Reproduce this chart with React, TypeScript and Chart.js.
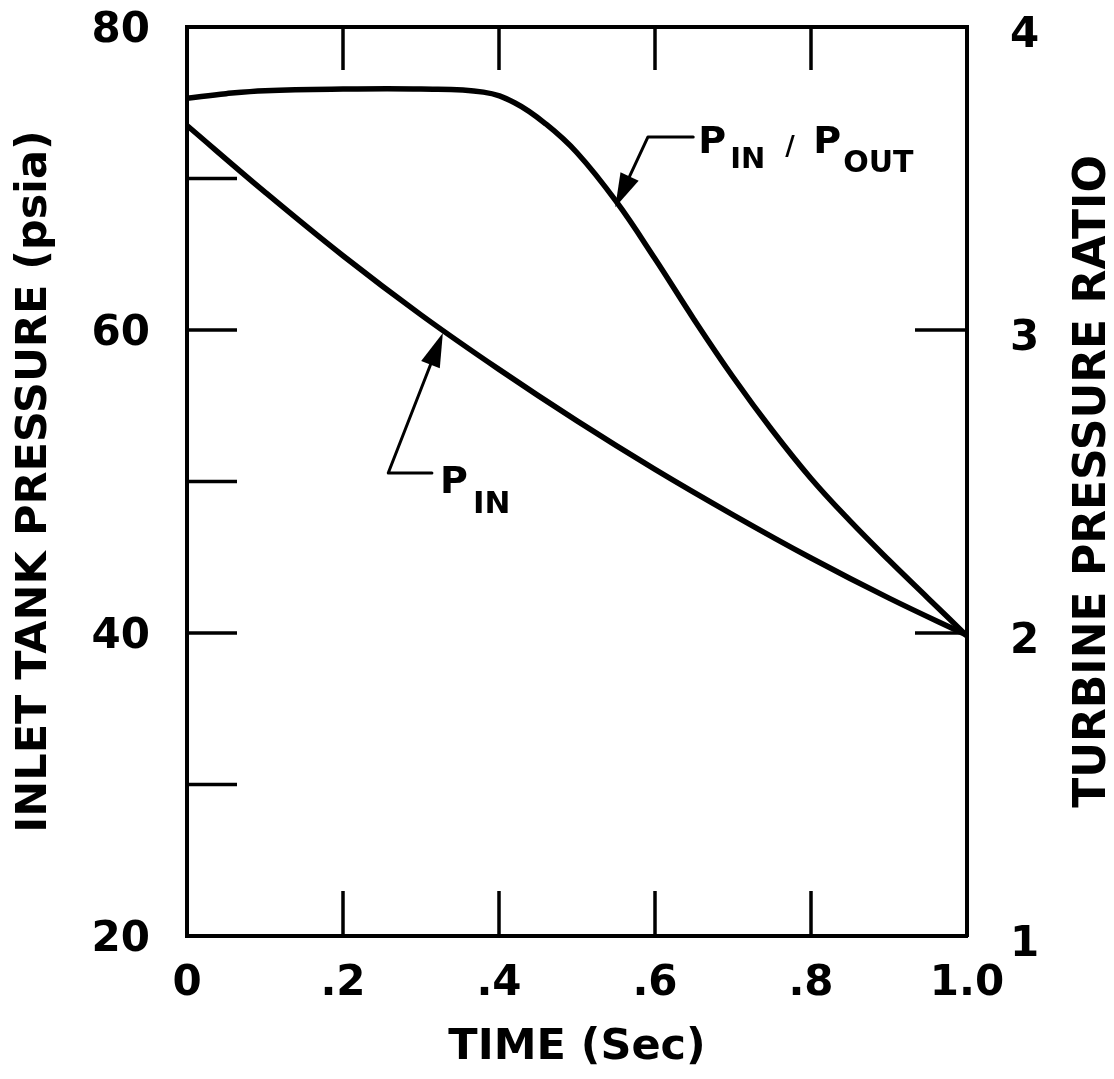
import React, { useEffect, useRef } from 'react';
import { Chart, registerables } from 'chart.js';

Chart.register(...registerables);

// ---- Data ----
const TIME_PIN = [0, 0.1, 0.2, 0.3, 0.4, 0.5, 0.6, 0.7, 0.8, 0.9, 1.0];
const PIN_PSIA = [73.5, 69.1, 64.9, 61.0, 57.4, 54.0, 50.8, 47.8, 44.95, 42.3, 39.85];

const TIME_RATIO = [0, 0.05, 0.1, 0.2, 0.3, 0.38, 0.42, 0.46, 0.5, 0.55, 0.6, 0.65, 0.7, 0.75, 0.8, 0.85, 0.9, 0.95, 1.0];
const PRESSURE_RATIO = [3.765, 3.78, 3.79, 3.795, 3.795, 3.785, 3.75, 3.68, 3.585, 3.425, 3.235, 3.035, 2.845, 2.67, 2.51, 2.37, 2.24, 2.115, 1.99];

const X_TICK_LABELS: Record<string, string> = { '0': '0', '0.2': '.2', '0.4': '.4', '0.6': '.6', '0.8': '.8', '1': '1.0' };
const LEFT_LABEL_VALUES = [20, 40, 60, 80];

const X_TITLE = 'TIME (Sec)';
const Y_TITLE = 'INLET TANK PRESSURE (psia)';
const Y2_TITLE = 'TURBINE PRESSURE RATIO';

// Annotation anchors in data units (x: time, y: left-axis psia)
const RATIO_NOTE = {
  tip: { x: 0.549, y: 68.1 },
  elbow: { x: 0.591, y: 72.74 },
  end: { x: 0.649, y: 72.74 },
  parts: [
    { text: 'P', dx: 5, dy: 16, size: 38 },
    { text: 'IN', dx: 37, dy: 31, size: 29 },
    { text: '/', dx: 92, dy: 18, size: 26 },
    { text: 'P', dx: 120, dy: 16, size: 38 },
    { text: 'OUT', dx: 150, dy: 35, size: 30 },
  ],
};
const PIN_NOTE = {
  tip: { x: 0.328, y: 59.8 },
  elbow: { x: 0.258, y: 50.56 },
  end: { x: 0.314, y: 50.56 },
  parts: [
    { text: 'P', dx: 8, dy: 20, size: 38 },
    { text: 'IN', dx: 41, dy: 40, size: 31 },
  ],
};

const W = 1114;
const H = 1079;
const FONT = '"DejaVu Sans", "Liberation Sans", sans-serif';

function drawNote(ctx: CanvasRenderingContext2D, chart: any, note: any) {
  const xs = chart.scales.x;
  const ys = chart.scales.y;
  const tip = { x: xs.getPixelForValue(note.tip.x), y: ys.getPixelForValue(note.tip.y) };
  const elbow = { x: xs.getPixelForValue(note.elbow.x), y: ys.getPixelForValue(note.elbow.y) };
  const end = { x: xs.getPixelForValue(note.end.x), y: ys.getPixelForValue(note.end.y) };
  ctx.lineWidth = 3;
  ctx.lineCap = 'round';
  ctx.lineJoin = 'round';
  const ang = Math.atan2(tip.y - elbow.y, tip.x - elbow.x);
  const headLen = 34;
  const headW = 10;
  const bx = tip.x - headLen * Math.cos(ang);
  const by = tip.y - headLen * Math.sin(ang);
  ctx.beginPath();
  ctx.moveTo(end.x, end.y);
  ctx.lineTo(elbow.x, elbow.y);
  ctx.lineTo(bx, by);
  ctx.stroke();
  ctx.beginPath();
  ctx.moveTo(tip.x, tip.y);
  ctx.lineTo(bx + headW * Math.sin(ang), by - headW * Math.cos(ang));
  ctx.lineTo(bx - headW * Math.sin(ang), by + headW * Math.cos(ang));
  ctx.closePath();
  ctx.fill();
  ctx.textAlign = 'left';
  ctx.textBaseline = 'alphabetic';
  for (const p of note.parts) {
    ctx.font = `bold ${p.size}px ${FONT}`;
    ctx.fillText(p.text, end.x + p.dx, end.y + p.dy);
  }
}

const overlayPlugin = {
  id: 'overlay',
  afterDraw(chart: any) {
    const { ctx, chartArea: a, scales } = chart;
    const xs = scales.x;
    const ys = scales.y;
    const y2s = scales.y2;
    ctx.save();
    ctx.strokeStyle = '#000';
    ctx.fillStyle = '#000';
    // top frame line
    ctx.lineWidth = 4;
    ctx.beginPath();
    ctx.moveTo(a.left - 2, a.top);
    ctx.lineTo(a.right + 2, a.top);
    ctx.stroke();
    // inward tick marks
    ctx.lineWidth = 3.5;
    const seg = (x1: number, y1: number, x2: number, y2: number) => {
      ctx.beginPath();
      ctx.moveTo(x1, y1);
      ctx.lineTo(x2, y2);
      ctx.stroke();
    };
    xs.ticks.forEach((t: any) => {
      if (t.value <= xs.min + 1e-9 || t.value >= xs.max - 1e-9) return;
      const px = xs.getPixelForValue(t.value);
      seg(px, a.bottom, px, a.bottom - 45);
      seg(px, a.top, px, a.top + 43);
    });
    ys.ticks.forEach((t: any) => {
      if (t.value <= ys.min || t.value >= ys.max) return;
      const py = ys.getPixelForValue(t.value);
      seg(a.left, py, a.left + 50, py);
    });
    y2s.ticks.forEach((t: any) => {
      if (t.value <= y2s.min || t.value >= y2s.max) return;
      const py = y2s.getPixelForValue(t.value);
      seg(a.right, py, a.right - 52, py);
    });
    // right axis title (reads bottom-to-top)
    ctx.save();
    ctx.translate(a.right + 127, (a.top + a.bottom) / 2);
    ctx.rotate(-Math.PI / 2);
    ctx.font = `bold 44px ${FONT}`;
    ctx.textAlign = 'center';
    ctx.textBaseline = 'middle';
    ctx.fillText(Y2_TITLE, 0, 0);
    ctx.restore();
    // annotations
    drawNote(ctx, chart, RATIO_NOTE);
    drawNote(ctx, chart, PIN_NOTE);
    ctx.restore();
  },
};

const zeroPad = (s: any) => {
  s.paddingTop = 0;
  s.paddingBottom = 0;
  s.paddingLeft = 0;
  s.paddingRight = 0;
};

export default function App() {
  const ref = useRef<HTMLCanvasElement>(null);
  useEffect(() => {
    if (!ref.current) return;
    const tickFont = { family: FONT, size: 42, weight: 'bold' as const };
    const titleFont = { family: FONT, size: 43, weight: 'bold' as const };
    const chart = new Chart(ref.current, {
      type: 'line',
      data: {
        datasets: [
          {
            label: 'P_IN',
            data: TIME_PIN.map((t, i) => ({ x: t, y: PIN_PSIA[i] })),
            yAxisID: 'y',
            borderColor: '#000',
            borderWidth: 5.5,
            pointRadius: 0,
            tension: 0.4,
            fill: false,
          },
          {
            label: 'P_IN/P_OUT',
            data: TIME_RATIO.map((t, i) => ({ x: t, y: PRESSURE_RATIO[i] })),
            yAxisID: 'y2',
            borderColor: '#000',
            borderWidth: 5.5,
            pointRadius: 0,
            tension: 0.4,
            fill: false,
          },
        ],
      },
      options: {
        animation: false,
        responsive: false,
        maintainAspectRatio: false,
        devicePixelRatio: 1,
        layout: { padding: { top: 27, left: 0, right: 0, bottom: 0 } },
        plugins: { legend: { display: false }, tooltip: { enabled: false } },
        scales: {
          x: {
            type: 'linear',
            position: 'bottom',
            min: 0,
            max: 1,
            grid: { display: false },
            border: { display: true, width: 4, color: '#000' },
            ticks: {
              stepSize: 0.2,
              autoSkip: false,
              maxRotation: 0,
              color: '#000',
              font: tickFont,
              padding: 15,
              callback: (v: any) => X_TICK_LABELS[String(Math.round(Number(v) * 10) / 10)] ?? '',
            },
            title: { display: true, text: X_TITLE, color: '#000', font: titleFont, padding: { top: 0, bottom: 5 } },
            afterFit: (s: any) => {
              s.height = H - 936;
              zeroPad(s);
            },
          },
          y: {
            type: 'linear',
            position: 'left',
            min: 20,
            max: 80,
            grid: { display: false },
            border: { display: true, width: 4, color: '#000' },
            ticks: {
              stepSize: 10,
              color: '#000',
              font: tickFont,
              padding: 29,
              labelOffset: 4,
              callback: (v: any) => (LEFT_LABEL_VALUES.includes(Number(v)) ? String(v) : ''),
            },
            title: { display: true, text: Y_TITLE, color: '#000', font: titleFont, padding: { top: 9, bottom: 0 } },
            afterFit: (s: any) => {
              s.width = 187;
              zeroPad(s);
            },
          },
          y2: {
            type: 'linear',
            position: 'right',
            min: 1,
            max: 4,
            grid: { display: false },
            border: { display: true, width: 4, color: '#000' },
            ticks: {
              stepSize: 1,
              color: '#000',
              font: tickFont,
              padding: 35,
              labelOffset: 9,
            },
            afterFit: (s: any) => {
              s.width = W - 967;
              zeroPad(s);
            },
          },
        },
      },
      plugins: [overlayPlugin],
    } as any);
    return () => chart.destroy();
  }, []);
  return (
    <div style={{ position: 'fixed', left: 0, top: 0, width: W, height: H, background: '#fff' }}>
      <canvas ref={ref} width={W} height={H} style={{ display: 'block', width: W, height: H }} />
    </div>
  );
}
